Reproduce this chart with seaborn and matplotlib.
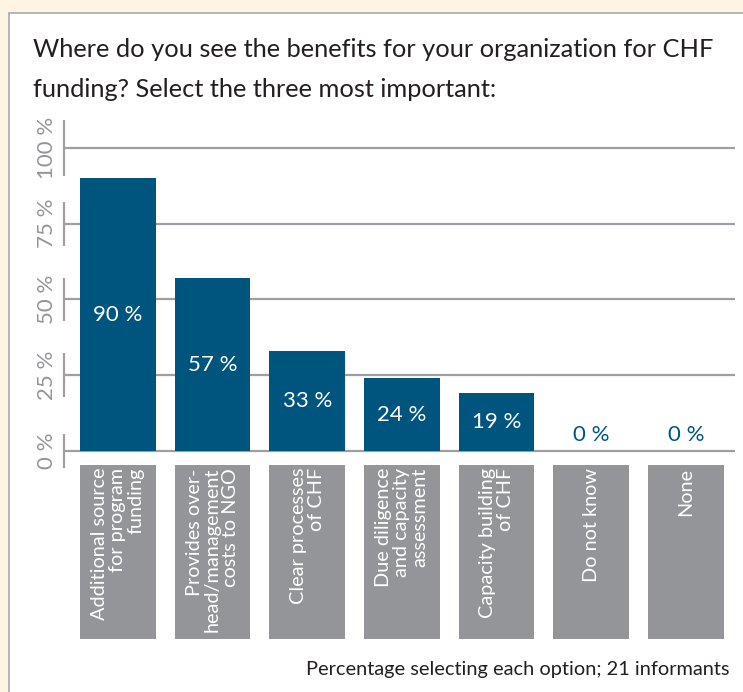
import pandas as pd
import matplotlib.pyplot as plt
import matplotlib.patches as mpatches
import seaborn as sns

categories = ["Additional source\nfor program\nfunding",
              "Provides over-\nhead/management\ncosts to NGO",
              "Clear processes\nof CHF",
              "Due diligence\nand capacity\nassessment",
              "Capacity building\nof CHF",
              "Do not know",
              "None"]
shares = [90, 57, 33, 24, 19, 0, 0]
yticks = [0, 25, 50, 75, 100]
ytick_labels = ["0 %", "25 %", "50 %", "75 %", "100 %"]
title_lines = ["Where do you see the benefits for your organization for CHF",
               "funding? Select the three most important:"]
note = "Percentage selecting each option; 21 informants"

BLUE = "#00557f"
GREY = "#939598"
GRID = "#9d9fa2"
CREAM = "#fdf4e4"
DARK = "#231f20"
W, H = 743, 692

sns.set_theme(style="white")
plt.rcParams["font.family"] = ["Lato", "DejaVu Sans"]

fig = plt.figure(figsize=(W / 100, H / 100), dpi=100, facecolor=CREAM)

# white panel with grey frame
fig.patches.append(mpatches.Rectangle((9 / W, -0.1), 1, 1.1 - 13 / H, transform=fig.transFigure,
                                      facecolor="white", edgecolor="#a7a9ac", linewidth=1.2, zorder=-5))

fig.text(33 / W, 1 - 57 / H, title_lines[0], fontsize=18.3, color=DARK, va="baseline")
fig.text(33 / W, 1 - 97 / H, title_lines[1], fontsize=18.3, color=DARK, va="baseline")

df = pd.DataFrame({"option": categories, "share": shares})

# main bar axes: 0 % at y=451px, 100 % at y=148px
ax = fig.add_axes([64 / W, (H - 470) / H, 671 / W, 352 / H])
ax.set_facecolor("none")
sns.barplot(data=df, x="option", y="share", color=BLUE, saturation=1, width=0.8,
            linewidth=0, ax=ax, zorder=3)
ax.set_xlim(-0.57, 6.52)
ax.set_ylim(-6.3, 109.9)
for s in ax.spines.values():
    s.set_visible(False)
ax.set_xlabel("")
ax.set_ylabel("")
ax.set_xticks(range(len(categories)))
ax.set_xticklabels([])
ax.tick_params(axis="x", length=0)
ax.set_yticks(yticks, ytick_labels, rotation=90, va="center", color=GREY, fontsize=16)
ax.tick_params(axis="y", length=0, pad=5)

for t in yticks:
    ax.axhline(t, color=GRID, lw=1.6, zorder=1)
    half = 9.4 if t == 100 else (5.6 if t == 0 else 7.2)
    ax.vlines(0, t - half, t + half, transform=ax.get_yaxis_transform(),
              color=GRID, lw=1.6, clip_on=False)

for i, v in enumerate(shares):
    if v > 0:
        ax.text(i, v / 2, f"{v} %", color="white", ha="center", va="center", fontsize=16, zorder=4)
    else:
        ax.text(i, 5.3, f"{v} %", color=BLUE, ha="center", va="center", fontsize=16, zorder=4)

# grey label strip below the bars
lab = fig.add_axes([64 / W, (H - 639) / H, 671 / W, 174 / H])
lab.set_xlim(-0.57, 6.52)
lab.set_ylim(0, 1)
lab.axis("off")
for i, name in enumerate(categories):
    lab.add_patch(mpatches.Rectangle((i - 0.4, 0), 0.8, 1, facecolor=GREY, edgecolor="none"))
    lab.text(i, 1 - 3 / 174, name, rotation=90, ha="center", va="top", multialignment="right",
             color="white", fontsize=14.3, linespacing=1.1)

fig.text(729 / W, 1 - 675 / H, note, fontsize=14.4, color=DARK, ha="right", va="baseline")

fig.savefig("out.png", dpi=100, facecolor=CREAM)
